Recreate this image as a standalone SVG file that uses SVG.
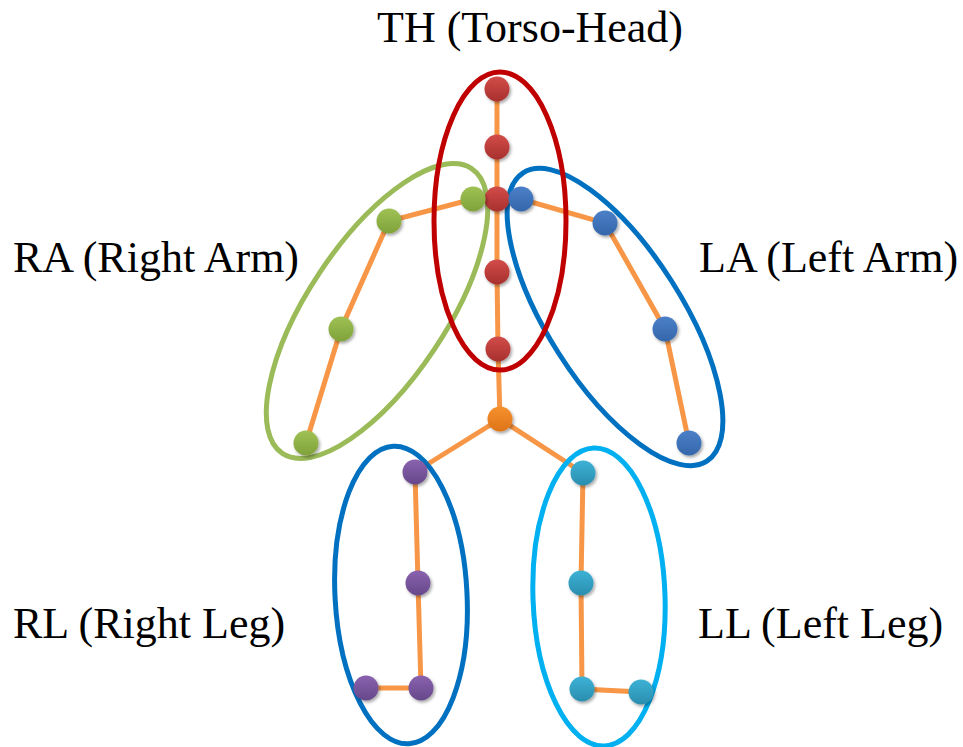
<svg xmlns="http://www.w3.org/2000/svg" width="963" height="747" viewBox="0 0 963 747">
<defs>
<linearGradient id="gRed" x1="0" y1="0" x2="0" y2="1"><stop offset="0" stop-color="#D24C49"/><stop offset="1" stop-color="#A8302E"/></linearGradient>
<linearGradient id="gGreen" x1="0" y1="0" x2="0" y2="1"><stop offset="0" stop-color="#9FC154"/><stop offset="1" stop-color="#7FA23A"/></linearGradient>
<linearGradient id="gBlue" x1="0" y1="0" x2="0" y2="1"><stop offset="0" stop-color="#4A80C8"/><stop offset="1" stop-color="#3566AA"/></linearGradient>
<linearGradient id="gPurple" x1="0" y1="0" x2="0" y2="1"><stop offset="0" stop-color="#8A62AE"/><stop offset="1" stop-color="#66488A"/></linearGradient>
<linearGradient id="gTeal" x1="0" y1="0" x2="0" y2="1"><stop offset="0" stop-color="#3DB2D6"/><stop offset="1" stop-color="#2A8DAE"/></linearGradient>
<linearGradient id="gOrange" x1="0" y1="0" x2="0" y2="1"><stop offset="0" stop-color="#F5912E"/><stop offset="1" stop-color="#DE7418"/></linearGradient>
<filter id="sh" x="-50%" y="-50%" width="200%" height="200%"><feDropShadow dx="1.5" dy="2" stdDeviation="1.5" flood-color="#000" flood-opacity="0.35"/></filter>
</defs>
<style>
.edge{stroke:#F79646;stroke-width:5;fill:none;stroke-linecap:round}
.ring{fill:none;stroke-width:5}
.j{filter:url(#sh)}
.lbl{font-family:"Liberation Serif","Times New Roman",serif;font-size:44px;fill:#000}
</style>
<rect width="963" height="747" fill="#fff"/>
<g id="connectors">
<path class="edge" d="M497,89 L497,147 L497,199 L497,272 L498,349 L500,419"/>
<path class="edge" d="M497,199 L473,199 L389,221 L341,329 L306,443"/>
<path class="edge" d="M497,199 L521,199 L605,223 L665,329 L689,443"/>
<path class="edge" d="M500,419 L415,472 L418,583 L421,688 L366,688"/>
<path class="edge" d="M500,419 L583,473 L581,583 L582,689 L641,692"/>
</g>
<g id="groups">
<g id="RA-group"><ellipse class="ring" stroke="#9BBB59" cx="377" cy="311" rx="171" ry="69" transform="rotate(-56.4 377 311)"/><text class="lbl" x="13" y="272">RA (Right Arm)</text></g>
<g id="LA-group"><ellipse class="ring" stroke="#0070C0" cx="615" cy="317" rx="171" ry="67" transform="rotate(57.5 615 317)"/><text class="lbl" x="699" y="272">LA (Left Arm)</text></g>
<g id="TH-group"><ellipse class="ring" stroke="#C00000" cx="500" cy="221" rx="66" ry="149"/><text class="lbl" x="377" y="42">TH (Torso-Head)</text></g>
<g id="RL-group"><ellipse class="ring" stroke="#0070C0" cx="401" cy="595" rx="66" ry="149" transform="rotate(-3 401 595)"/><text class="lbl" x="13" y="638">RL (Right Leg)</text></g>
<g id="LL-group"><ellipse class="ring" stroke="#00B0F0" cx="599" cy="597" rx="66" ry="149" transform="rotate(-2 599 597)"/><text class="lbl" x="698" y="638">LL (Left Leg)</text></g>
</g>
<g id="nodes">
<g id="th-head"><circle class="j" cx="497" cy="89" r="12.5" fill="url(#gRed)"/></g>
<g id="th-neck"><circle class="j" cx="497" cy="147" r="12.5" fill="url(#gRed)"/></g>
<g id="th-shoulder"><circle class="j" cx="497" cy="199" r="12.5" fill="url(#gRed)"/></g>
<g id="th-spine"><circle class="j" cx="497" cy="272" r="12.5" fill="url(#gRed)"/></g>
<g id="th-waist"><circle class="j" cx="498" cy="349" r="12.5" fill="url(#gRed)"/></g>
<g id="hip-center"><circle class="j" cx="500" cy="419" r="12.5" fill="url(#gOrange)"/></g>
<g id="ra-shoulder"><circle class="j" cx="473" cy="199" r="12.5" fill="url(#gGreen)"/></g>
<g id="ra-elbow"><circle class="j" cx="389" cy="221" r="12.5" fill="url(#gGreen)"/></g>
<g id="ra-wrist"><circle class="j" cx="341" cy="329" r="12.5" fill="url(#gGreen)"/></g>
<g id="ra-hand"><circle class="j" cx="306" cy="443" r="12.5" fill="url(#gGreen)"/></g>
<g id="la-shoulder"><circle class="j" cx="521" cy="199" r="12.5" fill="url(#gBlue)"/></g>
<g id="la-elbow"><circle class="j" cx="605" cy="223" r="12.5" fill="url(#gBlue)"/></g>
<g id="la-wrist"><circle class="j" cx="665" cy="329" r="12.5" fill="url(#gBlue)"/></g>
<g id="la-hand"><circle class="j" cx="689" cy="443" r="12.5" fill="url(#gBlue)"/></g>
<g id="rl-hip"><circle class="j" cx="415" cy="472" r="12.5" fill="url(#gPurple)"/></g>
<g id="rl-knee"><circle class="j" cx="418" cy="583" r="12.5" fill="url(#gPurple)"/></g>
<g id="rl-ankle"><circle class="j" cx="421" cy="688" r="12.5" fill="url(#gPurple)"/></g>
<g id="rl-foot"><circle class="j" cx="366" cy="688" r="12.5" fill="url(#gPurple)"/></g>
<g id="ll-hip"><circle class="j" cx="583" cy="473" r="12.5" fill="url(#gTeal)"/></g>
<g id="ll-knee"><circle class="j" cx="581" cy="583" r="12.5" fill="url(#gTeal)"/></g>
<g id="ll-ankle"><circle class="j" cx="582" cy="689" r="12.5" fill="url(#gTeal)"/></g>
<g id="ll-foot"><circle class="j" cx="641" cy="692" r="12.5" fill="url(#gTeal)"/></g>
</g>
</svg>
